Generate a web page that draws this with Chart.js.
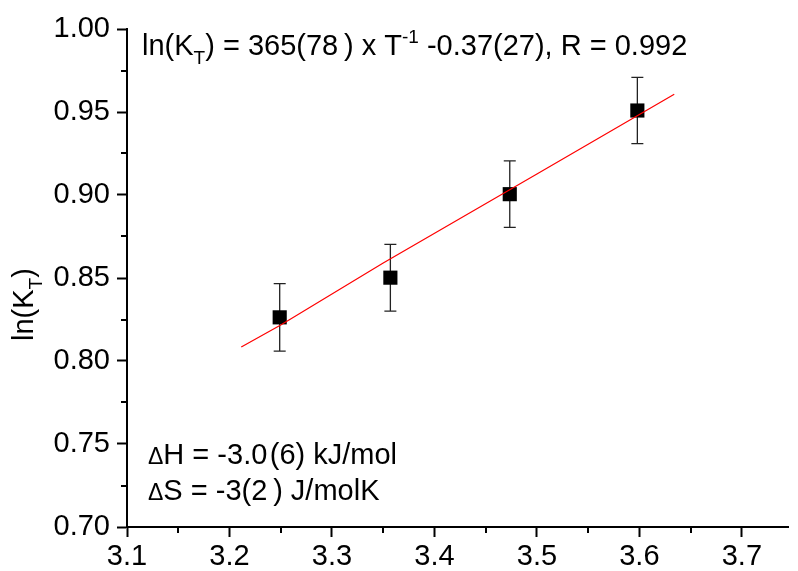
<!DOCTYPE html>
<html>
<head>
<meta charset="utf-8">
<script src="https://cdn.jsdelivr.net/npm/chart.js@4.4.1/dist/chart.umd.min.js"></script>
<style>
  html, body { margin: 0; padding: 0; background: #fff; }
  #wrap { width: 798px; height: 571px; }
</style>
</head>
<body>
<div id="wrap"><canvas id="vantHoff" width="798" height="571"></canvas></div>
<script>
// 1000/T (K^-1) against ln(K_T), with error bars
const invT = [3.249, 3.357, 3.4735, 3.598];
const lnK = [0.8263, 0.8502, 0.9005, 0.9509];
const lnKErr = [0.0203, 0.0201, 0.020, 0.020];

// linear fit as drawn
const fitX = [3.2115, 3.25, 3.35, 3.50, 3.634];
const fitY = [0.8084, 0.8217, 0.8590, 0.9127, 0.9607];

// axis ticks
const xTicks = [3.1, 3.2, 3.3, 3.4, 3.5, 3.6, 3.7];
const xMinor = [3.15, 3.25, 3.35, 3.45, 3.55, 3.65];
const yTicks = [0.70, 0.75, 0.80, 0.85, 0.90, 0.95, 1.00];
const yMinor = [0.725, 0.775, 0.825, 0.875, 0.925, 0.975];

const FONT = "'Liberation Sans', Arial, sans-serif";
const BIG = 29, SMALL = 19;

// writes a run of text pieces (size, baseline shift) one after another
function drawRich(ctx, x, y, parts) {
    let cx = x;
    parts.forEach(p => {
        ctx.font = p.size + 'px ' + FONT;
        ctx.fillText(p.t, cx, y + (p.dy || 0));
        cx += ctx.measureText(p.t).width;
    });
}

const extras = {
    id: 'extras',
    beforeDatasetsDraw(chart) {
        const ctx = chart.ctx;
        const xs = chart.scales.x, ys = chart.scales.y;
        ctx.save();
        // error bars
        ctx.strokeStyle = '#222';
        ctx.lineWidth = 1.3;
        invT.forEach((v, i) => {
            const px = xs.getPixelForValue(v);
            const top = ys.getPixelForValue(lnK[i] + lnKErr[i]);
            const bot = ys.getPixelForValue(lnK[i] - lnKErr[i]);
            ctx.beginPath();
            ctx.moveTo(px, top); ctx.lineTo(px, bot);
            ctx.moveTo(px - 6, top); ctx.lineTo(px + 6, top);
            ctx.moveTo(px - 6, bot); ctx.lineTo(px + 6, bot);
            ctx.stroke();
        });
        ctx.restore();
    },
    afterDraw(chart) {
        const ctx = chart.ctx;
        const xs = chart.scales.x, ys = chart.scales.y;
        const area = chart.chartArea;
        ctx.save();
        // minor ticks
        ctx.strokeStyle = '#000';
        ctx.lineWidth = 2;
        ctx.beginPath();
        xMinor.forEach(v => {
            const px = Math.round(xs.getPixelForValue(v));
            ctx.moveTo(px, area.bottom); ctx.lineTo(px, area.bottom + 6);
        });
        yMinor.forEach(v => {
            const py = Math.round(ys.getPixelForValue(v));
            ctx.moveTo(area.left, py); ctx.lineTo(area.left - 6, py);
        });
        ctx.stroke();

        // annotations
        ctx.fillStyle = '#000';
        ctx.textBaseline = 'alphabetic';
        ctx.textAlign = 'left';
        drawRich(ctx, area.left + 15, area.top + 26, [
            { t: 'ln(K', size: BIG },
            { t: 'T', size: SMALL, dy: 9 },
            { t: ') = 365(78\u2009) x T', size: BIG },
            { t: '-1', size: SMALL, dy: -12 },
            { t: ' -0.37(27), R = 0.992', size: BIG }
        ]);
        drawRich(ctx, area.left + 21, 464, [
            { t: '\u0394', size: 23 },
            { t: 'H = -3.0\u200A(6) kJ/mol', size: BIG }
        ]);
        drawRich(ctx, area.left + 21, 500, [
            { t: '\u0394', size: 23 },
            { t: 'S = -3(2\u2009) J/molK', size: BIG }
        ]);

        // y axis title
        ctx.translate(33, 341);
        ctx.rotate(-Math.PI / 2);
        drawRich(ctx, 0, 0, [
            { t: 'ln(K', size: BIG },
            { t: 'T', size: SMALL, dy: 9 },
            { t: ')', size: BIG }
        ]);
        ctx.restore();
    }
};

new Chart(document.getElementById('vantHoff'), {
    type: 'scatter',
    data: {
        datasets: [{
            label: 'fit',
            type: 'line',
            data: fitX.map((x, i) => ({ x: x, y: fitY[i] })),
            borderColor: '#ff0000',
            borderWidth: 1.2,
            pointRadius: 0,
            tension: 0,
            fill: false,
            order: 0
        }, {
            label: 'ln(K_T)',
            data: invT.map((x, i) => ({ x: x, y: lnK[i] })),
            pointStyle: 'rect',
            pointRadius: 10,
            backgroundColor: '#000',
            borderColor: '#000',
            borderWidth: 0,
            order: 1
        }]
    },
    options: {
        responsive: false,
        animation: false,
        events: [],
        layout: { padding: { top: 29, left: 0, right: 0, bottom: 0 } },
        plugins: {
            legend: { display: false },
            tooltip: { enabled: false }
        },
        scales: {
            x: {
                type: 'linear',
                min: 3.1,
                max: 3.745,
                afterBuildTicks: s => { s.ticks = xTicks.map(v => ({ value: v })); },
                afterFit: s => { s.height = 44; },
                border: { color: '#000', width: 2 },
                grid: { drawOnChartArea: false, tickLength: 10, tickColor: '#000', tickWidth: 2 },
                ticks: {
                    color: '#000',
                    padding: 3,
                    maxRotation: 0,
                    font: { family: FONT, size: BIG },
                    callback: v => v.toFixed(1)
                }
            },
            y: {
                type: 'linear',
                min: 0.70,
                max: 1.00,
                afterBuildTicks: s => { s.ticks = yTicks.map(v => ({ value: v })); },
                afterFit: s => { s.width = 127; },
                border: { color: '#000', width: 2 },
                grid: { drawOnChartArea: false, tickLength: 10, tickColor: '#000', tickWidth: 2 },
                ticks: {
                    color: '#000',
                    padding: 7,
                    font: { family: FONT, size: BIG },
                    callback: v => v.toFixed(2)
                }
            }
        }
    },
    plugins: [extras]
});
</script>
</body>
</html>
